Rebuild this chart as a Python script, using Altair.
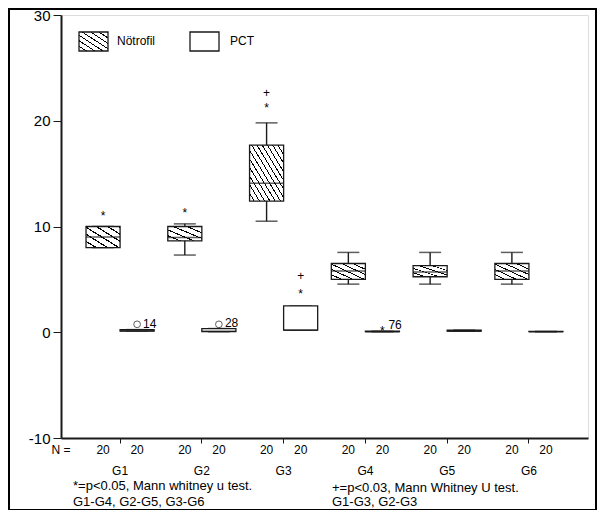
import altair as alt
import pandas as pd

FONT = "Liberation Sans"

groups = ["G1", "G2", "G3", "G4", "G5", "G6"]
series = ["Nötrofil", "PCT"]
n_counts = [20, 20, 20, 20, 20, 20]

# Nötrofil box statistics
neu_lower = [8.0, 7.3, 10.5, 4.55, 4.55, 4.55]
neu_q1 = [8.0, 8.65, 12.4, 5.0, 5.25, 5.0]
neu_median = [9.0, 8.95, 14.1, 5.8, 5.7, 5.8]
neu_q3 = [10.0, 10.0, 17.7, 6.5, 6.3, 6.5]
neu_upper = [10.0, 10.25, 19.8, 7.55, 7.55, 7.55]

# PCT box statistics
pct_lower = [0.1, 0.05, 0.2, 0.05, 0.1, 0.05]
pct_q1 = [0.1, 0.05, 0.2, 0.05, 0.1, 0.05]
pct_median = [0.15, 0.1, 0.2, 0.05, 0.1, 0.05]
pct_q3 = [0.25, 0.35, 2.5, 0.1, 0.2, 0.08]
pct_upper = [0.25, 0.35, 2.5, 0.1, 0.2, 0.08]

# outlier / significance symbols
sym_group = ["G1", "G2", "G3", "G3", "G3", "G3", "G4"]
sym_series = ["Nötrofil", "Nötrofil", "Nötrofil", "Nötrofil", "PCT", "PCT", "PCT"]
sym_value = [11.2, 11.5, 21.4, 22.8, 3.8, 5.5, 0.35]
sym_text = ["*", "*", "*", "+", "*", "+", "*"]

circ_group = ["G1", "G2"]
circ_series = ["PCT", "PCT"]
circ_value = [0.75, 0.75]

case_group = ["G1", "G2", "G4"]
case_series = ["PCT", "PCT", "PCT"]
case_value = [0.75, 0.85, 0.65]
case_text = ["14", "28", "76"]

note_left = ["*=p<0.05, Mann whitney u test.", "G1-G4, G2-G5, G3-G6"]
note_right = ["+=p<0.03, Mann Whitney U test.", "G1-G3, G2-G3"]

rows = []
for i, g in enumerate(groups):
    rows.append(dict(group=g, series="Nötrofil", lower=neu_lower[i], q1=neu_q1[i],
                     median=neu_median[i], q3=neu_q3[i], upper=neu_upper[i], n=n_counts[i]))
    rows.append(dict(group=g, series="PCT", lower=pct_lower[i], q1=pct_q1[i],
                     median=pct_median[i], q3=pct_q3[i], upper=pct_upper[i], n=n_counts[i]))
box_df = pd.DataFrame(rows)
sym_df = pd.DataFrame(dict(group=sym_group, series=sym_series, value=sym_value, sym=sym_text))
circ_df = pd.DataFrame(dict(group=circ_group, series=circ_series, value=circ_value))
case_df = pd.DataFrame(dict(group=case_group, series=case_series, value=case_value, lab=case_text))
one = pd.DataFrame({"a": [0]})


def hatch(n, f=0.2):
    stops = []
    for k in range(n):
        a = k / n
        b = (k + 1 - f) / n
        c = (k + 1) / n
        stops += [alt.GradientStop(offset=a, color="white"),
                  alt.GradientStop(offset=b, color="white"),
                  alt.GradientStop(offset=b, color="black"),
                  alt.GradientStop(offset=c, color="black")]
    return alt.LinearGradient(gradient="linear", stops=stops, x1=0, y1=1, x2=1, y2=0)


W, H = 527, 423
INK = "#1a1a1a"

x_enc = alt.X("group:N", title=None,
              scale=alt.Scale(domain=groups, paddingInner=0.167, paddingOuter=0.306),
              axis=alt.Axis(labelFont=FONT, labelFontSize=12, labelColor="black",
                            labelPadding=22, tickSize=5, tickColor=INK, domainColor=INK,
                            domainWidth=2, labelAngle=0))
xo_enc = alt.XOffset("series:N", scale=alt.Scale(domain=series, paddingInner=0, paddingOuter=0))
y_scale = alt.Scale(domain=[-10, 30], nice=False, zero=False)
y_axis = alt.Axis(values=[-10, 0, 10, 20, 30], labelFont=FONT, labelFontSize=15,
                  labelColor="black", tickSize=8, tickColor=INK, domainColor=INK,
                  domainWidth=2, grid=False, labelExpr="'' + datum.value", labelPadding=3)


def Y(field):
    return alt.Y(field, title=None, scale=y_scale, axis=y_axis)


base = alt.Chart(box_df)

whisker = base.mark_rule(color=INK, strokeWidth=1.4).encode(
    x=x_enc, xOffset=xo_enc, y=Y("lower:Q"), y2="upper:Q")
cap_low = base.mark_tick(color=INK, size=22, thickness=1.5).encode(
    x=x_enc, xOffset=xo_enc, y=Y("lower:Q"))
cap_up = base.mark_tick(color=INK, size=22, thickness=1.5).encode(
    x=x_enc, xOffset=xo_enc, y=Y("upper:Q"))

# hatch density per box height (so the hatch lines keep a similar spacing)
hatch_sets = [(13, ["G3"]), (6, ["G1", "G4", "G6"]), (5, ["G2", "G5"])]
neu_boxes = []
for n, gs in hatch_sets:
    expr = "datum.series == '%s' && indexof(%s, datum.group) >= 0" % (
        series[0], "[" + ",".join("'%s'" % g for g in gs) + "]")
    neu_boxes.append(
        base.transform_filter(expr).mark_bar(
            fill=hatch(n, 0.2), stroke=INK, strokeWidth=1.3).encode(
            x=x_enc, xOffset=xo_enc, y=Y("q1:Q"), y2="q3:Q"))

box_pct = base.transform_filter("datum.series == 'PCT'").mark_bar(
    fill="white", stroke=INK, strokeWidth=1.3).encode(
    x=x_enc, xOffset=xo_enc, y=Y("q1:Q"), y2="q3:Q")
median = base.mark_tick(color=INK, size=34, thickness=1.5).encode(
    x=x_enc, xOffset=xo_enc, y=Y("median:Q"))

syms = alt.Chart(sym_df).mark_text(font=FONT, fontSize=12, color="black", dy=2).encode(
    x=x_enc, xOffset=xo_enc, y=Y("value:Q"), text="sym:N")
circs = alt.Chart(circ_df).mark_point(shape="circle", filled=False, color=INK,
                                      size=45, strokeWidth=1).encode(
    x=x_enc, xOffset=xo_enc, y=Y("value:Q"))
cases = alt.Chart(case_df).mark_text(font=FONT, fontSize=12, color="black", align="left",
                                     dx=6).encode(
    x=x_enc, xOffset=xo_enc, y=Y("value:Q"), text="lab:N")

n_row = base.mark_text(font=FONT, fontSize=12, color="black", baseline="middle").encode(
    x=x_enc, xOffset=xo_enc, y=alt.value(H + 12), text="n:Q")
n_lab = alt.Chart(one).mark_text(font=FONT, fontSize=12, color="black", baseline="middle",
                                 text="N =").encode(x=alt.value(0), y=alt.value(H + 12))


def note(txt, x, y):
    return alt.Chart(one).mark_text(font=FONT, fontSize=13, color="black", align="left",
                                    baseline="middle", text=txt).encode(
        x=alt.value(x), y=alt.value(y))


notes = [note(note_left[0], 12, H + 48), note(note_left[1], 12, H + 64),
         note(note_right[0], 271, H + 50), note(note_right[1], 271, H + 64)]

frame = alt.Chart(one).mark_rect(fill=None, stroke="black", strokeWidth=2).encode(
    x=alt.value(-52), x2=alt.value(535), y=alt.value(-6), y2=alt.value(H + 72))

leg_sw1 = alt.Chart(one).mark_rect(fill=hatch(7, 0.2), stroke=INK, strokeWidth=1.3).encode(
    x=alt.value(18), x2=alt.value(47), y=alt.value(17), y2=alt.value(36))
leg_sw2 = alt.Chart(one).mark_rect(fill="white", stroke=INK, strokeWidth=1.3).encode(
    x=alt.value(129), x2=alt.value(158), y=alt.value(17), y2=alt.value(36))
leg_t1 = alt.Chart(one).mark_text(font=FONT, fontSize=12, color="black", align="left",
                                  baseline="middle", text=series[0]).encode(
    x=alt.value(56), y=alt.value(26))
leg_t2 = alt.Chart(one).mark_text(font=FONT, fontSize=12, color="black", align="left",
                                  baseline="middle", text=series[1]).encode(
    x=alt.value(169), y=alt.value(26))

chart = alt.layer(
    whisker, cap_low, cap_up, *neu_boxes, box_pct, median,
    syms, circs, cases, n_row, n_lab, *notes,
    leg_sw1, leg_sw2, leg_t1, leg_t2, frame
).properties(
    width=W, height=H,
    autosize=alt.AutoSizeParams(type="none"),
    padding={"left": 53, "top": 7, "right": 9, "bottom": 72},
).configure_view(stroke="#333", strokeWidth=1.5).configure(font=FONT, background="white")

chart.save("out.html", embed_options={"renderer": "svg", "actions": False})
